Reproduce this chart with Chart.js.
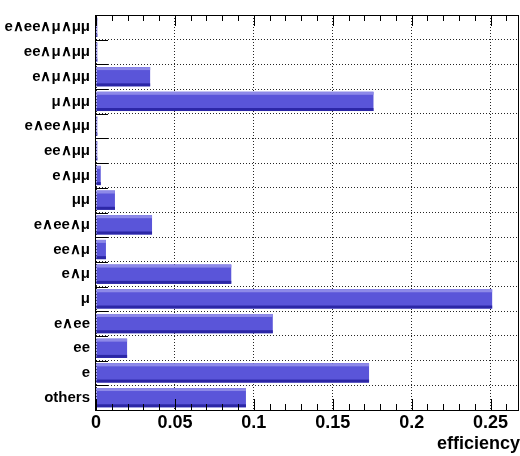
<!DOCTYPE html>
<html>
<head>
<meta charset="utf-8">
<script src="https://cdn.jsdelivr.net/npm/chart.js@4.4.0/dist/chart.umd.min.js"></script>
<style>
  html, body { margin: 0; padding: 0; background: #fff; }
  #wrap { width: 520px; height: 456px; }
</style>
</head>
<body>
<div id="wrap"><canvas id="grafico" width="520" height="456"></canvas></div>
<script>
// categorias de baixo para cima
const categorias = ['others', 'e', 'ee', 'e\u2227ee', '\u03bc', 'e\u2227\u03bc', 'ee\u2227\u03bc', 'e\u2227ee\u2227\u03bc',
    '\u03bc\u03bc', 'e\u2227\u03bc\u03bc', 'ee\u2227\u03bc\u03bc', 'e\u2227ee\u2227\u03bc\u03bc', '\u03bc\u2227\u03bc\u03bc',
    'e\u2227\u03bc\u2227\u03bc\u03bc', 'ee\u2227\u03bc\u2227\u03bc\u03bc', 'e\u2227ee\u2227\u03bc\u2227\u03bc\u03bc'];
const eficiencia = [0.095, 0.173, 0.0197, 0.112, 0.251, 0.0857, 0.0063, 0.0355,
    0.012, 0.003, 0.0008, 0.0008, 0.1758, 0.0343, 0.0008, 0.0008];
const ticksX = [0, 0.05, 0.1, 0.15, 0.2, 0.25];
const eixoMax = 0.268;

document.addEventListener('DOMContentLoaded', function() {
    const ctx = document.getElementById('grafico').getContext('2d');

    // faixas clara/escura nas barras, estilo ROOT
    const barrasRoot = {
        id: 'barrasRoot',
        afterDatasetsDraw: (chart) => {
            const c = chart.ctx;
            chart.getDatasetMeta(0).data.forEach(function(bar) {
                const p = bar.getProps(['x', 'y', 'base', 'height'], true);
                const top = p.y - p.height / 2;
                const w = p.x - p.base;
                if (w <= 0) return;
                c.save();
                c.fillStyle = '#8d89e8';
                c.fillRect(p.base, top, w, 3);
                c.fillStyle = '#2c27a6';
                c.fillRect(p.base, top + p.height - 3, w, 3);
                c.restore();
            });
        }
    };

    // moldura, marcas internas e titulo do eixo
    const moldura = {
        id: 'moldura',
        afterDraw: (chart) => {
            const c = chart.ctx;
            const a = chart.chartArea;
            const sx = chart.scales.x;
            c.save();
            c.strokeStyle = '#000';
            c.lineWidth = 1;
            c.strokeRect(a.left - 0.5, a.top + 0.5, a.right - a.left, a.bottom - a.top);

            c.beginPath();
            for (let i = 0; i <= 26; i++) {
                const x = Math.round(sx.getPixelForValue(i / 100)) + 0.5;
                const len = (i % 5 === 0) ? 11 : 6;
                c.moveTo(x, a.bottom);
                c.lineTo(x, a.bottom - len);
                c.moveTo(x, a.top);
                c.lineTo(x, a.top + len);
            }
            const passo = (a.bottom - a.top) / categorias.length;
            for (let j = 0; j <= categorias.length; j++) {
                const y = Math.round(a.top + j * passo) + 0.5;
                c.moveTo(a.left, y);
                c.lineTo(a.left + 12, y);
            }
            c.stroke();

            c.fillStyle = '#000';
            c.font = 'bold 18px "Liberation Sans", Arial, sans-serif';
            c.textAlign = 'right';
            c.textBaseline = 'alphabetic';
            c.fillText('efficiency', 520, 449);
            c.restore();
        }
    };

    const config = {
        type: 'bar',
        data: {
            labels: categorias,
            datasets: [{
                label: 'efficiency',
                data: eficiencia,
                backgroundColor: '#5a55d9',
                borderWidth: 0,
                barPercentage: 0.78,
                categoryPercentage: 1.0
            }]
        },
        options: {
            indexAxis: 'y',
            responsive: false,
            devicePixelRatio: 1,
            animation: false,
            layout: { padding: { top: 6, right: 1, left: 0, bottom: 0 } },
            plugins: {
                legend: { display: false },
                tooltip: { enabled: false }
            },
            scales: {
                x: {
                    type: 'linear',
                    min: 0,
                    max: eixoMax,
                    afterBuildTicks: (scale) => {
                        scale.ticks = ticksX.map(v => ({ value: v }));
                    },
                    afterFit: (scale) => { scale.height = 46; },
                    ticks: {
                        color: '#000',
                        padding: 2,
                        maxRotation: 0,
                        font: { family: '"Liberation Sans", Arial, sans-serif', size: 18, weight: 'bold' },
                        callback: (v) => String(v)
                    },
                    grid: {
                        color: 'rgba(0,0,0,0.85)',
                        drawTicks: false,
                        lineWidth: 1
                    },
                    border: { display: false, dash: [1, 2] }
                },
                y: {
                    reverse: true,
                    afterFit: (scale) => { scale.width = 96; },
                    ticks: {
                        color: '#000',
                        padding: 6,
                        autoSkip: false,
                        font: { family: '"Liberation Sans", Arial, sans-serif', size: 15, weight: 'bold' }
                    },
                    grid: {
                        offset: true,
                        color: 'rgba(0,0,0,0.85)',
                        drawTicks: false,
                        lineWidth: 1
                    },
                    border: { display: false, dash: [1, 2] }
                }
            }
        },
        plugins: [barrasRoot, moldura]
    };

    new Chart(ctx, config);
});
</script>
</body>
</html>
